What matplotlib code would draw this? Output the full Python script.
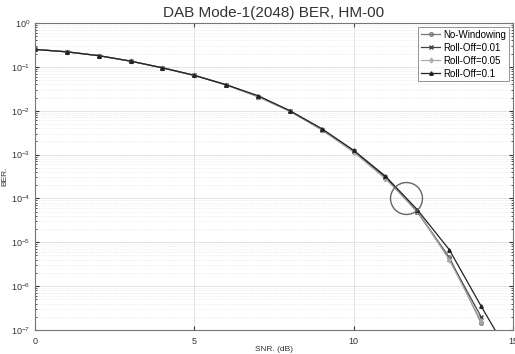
import matplotlib
matplotlib.use("Agg")
import matplotlib.pyplot as plt
import numpy as np

plt.rcParams['font.family'] = ['Liberation Sans', 'DejaVu Sans']

snr = list(range(0, 15))
snr_ro1 = list(range(0, 16))
no_win = [0.25, 0.22, 0.18, 0.135, 0.095, 0.064, 0.039, 0.021, 0.0098, 0.0037,
          1.15e-3, 2.9e-4, 5.0e-5, 4.6e-6, 1.45e-7]
ro_001 = [0.25, 0.22, 0.18, 0.135, 0.095, 0.064, 0.039, 0.021, 0.0098, 0.0037,
          1.2e-3, 3.0e-4, 5.0e-5, 4.2e-6, 2.0e-7]
ro_005 = [0.25, 0.22, 0.18, 0.135, 0.095, 0.064, 0.039, 0.021, 0.0098, 0.0037,
          1.15e-3, 2.8e-4, 5.2e-5, 4.0e-6, 1.6e-7]
ro_01 = [0.25, 0.22, 0.18, 0.135, 0.095, 0.064, 0.039, 0.022, 0.0100, 0.0039,
         1.25e-3, 3.2e-4, 5.5e-5, 6.8e-6, 3.5e-7, 2.0e-8]
labels = ['No-Windowing', 'Roll-Off=0.01', 'Roll-Off=0.05', 'Roll-Off=0.1']
circle_center = (11.63, 1.0e-4)

fig = plt.figure(figsize=(5.15, 3.54), dpi=100)
ax = fig.add_axes([0.068, 0.068, 0.928, 0.867])

ax.semilogy(snr, no_win, color='#777777', marker='o', markersize=2.5, mfc='none', lw=0.9, label=labels[0])
ax.semilogy(snr, ro_001, color='#444444', marker='x', markersize=2.5, lw=0.9, label=labels[1])
ax.semilogy(snr, ro_005, color='#aaaaaa', marker='d', markersize=2.5, mfc='none', lw=0.9, label=labels[2])
ax.semilogy(snr_ro1, ro_01, color='#222222', marker='^', markersize=2.5, lw=0.9, label=labels[3])

ax.plot([circle_center[0]], [circle_center[1]], marker='o', markersize=23, mfc='none',
        mec='#666666', mew=1.0, linestyle='none')

ax.set_xlim(0, 15)
ax.set_ylim(1e-7, 1)
ax.set_xticks([0, 5, 10, 15])
ax.grid(True, which='major', color='#dddddd', lw=0.6, ls='-')
ax.grid(True, which='minor', color='#e0e0e0', lw=0.5, ls=':')
ax.tick_params(which='both', direction='in', top=True, right=True, labelsize=6.5,
               colors='#333333', length=3)
ax.tick_params(axis='x', pad=5)
ax.tick_params(which='minor', length=1.5)
for s in ax.spines.values():
    s.set_color('#777777')
    s.set_linewidth(0.8)

ax.set_title('DAB Mode-1(2048) BER, HM-00', fontsize=11, color='#333333', pad=4)
ax.set_xlabel('SNR. (dB)', fontsize=6, color='#333333', labelpad=0)
ax.set_ylabel('BER.', fontsize=6, color='#333333', labelpad=2)

leg = ax.legend(loc='upper right', fontsize=7, frameon=True, fancybox=False,
                edgecolor='#777777', handlelength=2.0, borderpad=0.3,
                labelspacing=0.3, handletextpad=0.3, borderaxespad=0.4)
leg.get_frame().set_linewidth(0.7)

fig.savefig('out.png', dpi=100)
